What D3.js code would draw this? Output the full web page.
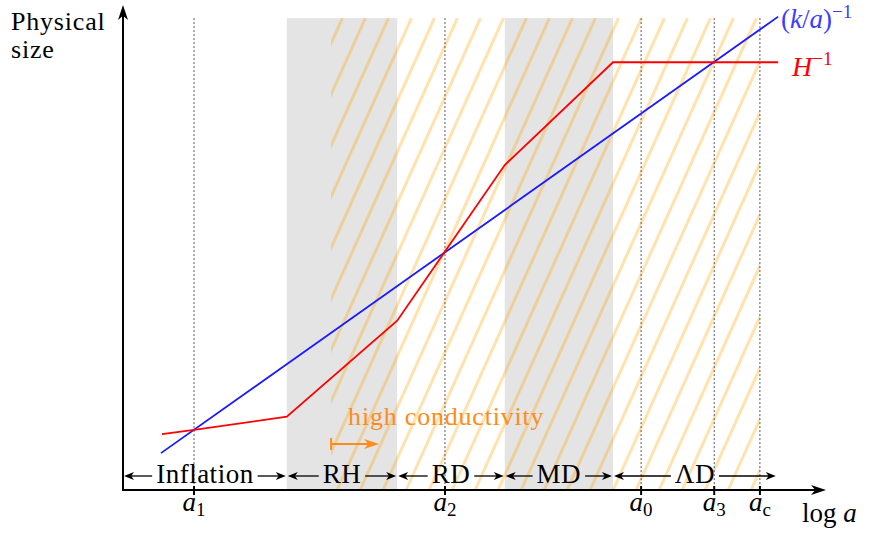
<!DOCTYPE html>
<html><head><meta charset="utf-8">
<script src="https://cdn.jsdelivr.net/npm/d3@7"></script>
<style>
body{margin:0;background:#fff}
text{font-family:"Liberation Serif","Times New Roman",serif;}
</style></head><body>
<svg id="chart" width="874" height="534"></svg>
<script>
// Cosmic eras along log a
const eraNames = ["Inflation", "RH", "RD", "MD", "\u039BD"];
const eraStart = [0, 23.3, 39.0, 54.3, 69.7];
const eraEnd   = [23.3, 39.0, 54.3, 69.7, 93.0];
const grayEras = ["RH", "MD"];
// Interval with high conductivity (hatched)
const hatchRange = [29.6, 90.6];
// Marked scale factors
const markerSubs = ["1", "2", "0", "3", "c"];
const markerLogA = [10.1, 45.8, 73.7, 84.1, 90.6];
// Comoving mode size (k/a)^-1
const modeLogA = [5.4, 93.2];
const modeSize = [7.6, 97.6];
// Hubble radius H^-1
const hubbleLogA = [5.55, 10.1, 23.3, 39.0, 54.3, 69.7, 93.2];
const hubbleSize = [11.5, 12.4, 15.1, 34.9, 67.0, 88.2, 88.2];
const plotTop = 97.3;

const svg = d3.select("#chart");
const x = d3.scaleLinear().domain([0, 100]).range([123, 826]);
const y = d3.scaleLinear().domain([0, 100]).range([490, 5]);

const ORANGE = "#ff8c1a";

// shaded eras
eraNames.forEach((n, i) => {
  if (!grayEras.includes(n)) return;
  svg.append("rect")
    .attr("x", x(eraStart[i])).attr("y", y(plotTop))
    .attr("width", x(eraEnd[i]) - x(eraStart[i]))
    .attr("height", y(0) - y(plotTop))
    .attr("fill", "#e4e4e4");
});

// hatching
const defs = svg.append("defs");
defs.append("clipPath").attr("id", "hclip").append("rect")
  .attr("x", x(hatchRange[0])).attr("y", y(plotTop))
  .attr("width", x(hatchRange[1]) - x(hatchRange[0]))
  .attr("height", y(0) - y(plotTop));
const hg = svg.append("g").attr("clip-path", "url(#hclip)");
const h = y(0) - y(plotTop), slant = 0.45 * h, step = 23;
for (let k = -12; k < 25; k++) {
  const x0 = x(hatchRange[0]) + k * step + 6;
  hg.append("line")
    .attr("x1", x0).attr("y1", y(0))
    .attr("x2", x0 + slant).attr("y2", y(plotTop))
    .attr("stroke", "#ffa500").attr("stroke-opacity", 0.32)
    .attr("stroke-width", 3);
}

// dotted guides
markerLogA.forEach(v => {
  svg.append("line")
    .attr("x1", x(v)).attr("x2", x(v))
    .attr("y1", y(plotTop)).attr("y2", y(0))
    .attr("stroke", "#555").attr("stroke-width", 1)
    .attr("stroke-dasharray", "2,2");
});

// curves
const line = d3.line().x(d => x(d[0])).y(d => y(d[1]));
svg.append("path").datum(modeLogA.map((v, i) => [v, modeSize[i]]))
  .attr("d", line).attr("fill", "none").attr("stroke", "#1a1aff").attr("stroke-width", 1.8);
svg.append("path").datum(hubbleLogA.map((v, i) => [v, hubbleSize[i]]))
  .attr("d", line).attr("fill", "none").attr("stroke", "#ff0000").attr("stroke-width", 1.8);

// arrowhead helper (stealth-like)
function head(g, tx, ty, dx, dy, len, hw, color) {
  const px = -dy, py = dx;
  const bx = tx - dx * len, by = ty - dy * len;
  const ix = tx - dx * len * 0.72, iy = ty - dy * len * 0.72;
  g.append("path")
    .attr("d", `M${tx},${ty}L${bx + px * hw},${by + py * hw}L${ix},${iy}L${bx - px * hw},${by - py * hw}Z`)
    .attr("fill", color);
}

// axes
const ax = svg.append("g");
ax.append("line").attr("x1", x(0)).attr("x2", x(100) - 6).attr("y1", y(0)).attr("y2", y(0))
  .attr("stroke", "#000").attr("stroke-width", 2);
ax.append("line").attr("x1", x(0)).attr("x2", x(0)).attr("y1", y(0) + 1).attr("y2", y(100) + 6)
  .attr("stroke", "#000").attr("stroke-width", 2);
head(ax, x(100), y(0), 1, 0, 15, 5, "#000");
head(ax, x(0), y(100), 0, -1, 15, 5, "#000");

// ticks and labels
markerLogA.forEach((v, i) => {
  svg.append("line").attr("x1", x(v)).attr("x2", x(v)).attr("y1", y(0) - 4).attr("y2", y(0) + 5)
    .attr("stroke", "#000").attr("stroke-width", 2);
  const t = svg.append("text").attr("x", x(v)).attr("y", 511)
    .attr("text-anchor", "middle").attr("font-size", 27);
  t.append("tspan").attr("font-style", "italic").text("a");
  t.append("tspan").attr("font-size", 19).attr("dy", 5).text(markerSubs[i]);
});

// axis titles
svg.append("text").attr("x", 11).attr("y", 30).attr("font-size", 26).attr("letter-spacing", 0.8).text("Physical");
svg.append("text").attr("x", 11).attr("y", 58).attr("font-size", 26).attr("letter-spacing", 0.8).text("size");
const lg = svg.append("text").attr("x", 802).attr("y", 522).attr("font-size", 27);
lg.append("tspan").text("log ");
lg.append("tspan").attr("font-style", "italic").text("a");

// curve labels
const kl = svg.append("text").attr("x", 781).attr("y", 28).attr("font-size", 27).attr("fill", "#3c3cff");
kl.append("tspan").text("(");
kl.append("tspan").attr("font-style", "italic").text("k");
kl.append("tspan").text("/");
kl.append("tspan").attr("font-style", "italic").text("a");
kl.append("tspan").text(")");
kl.append("tspan").attr("font-size", 19).attr("dy", -10).text("\u22121");
const hl = svg.append("text").attr("x", 792).attr("y", 76).attr("font-size", 28).attr("fill", "#ff0000");
hl.append("tspan").attr("font-style", "italic").text("H");
hl.append("tspan").attr("font-size", 19).attr("dy", -11).text("\u22121");

// era arrows
const eg = svg.append("g");
const eraY = 476;
eraNames.forEach((n, i) => {
  const x0 = x(eraStart[i]), x1 = x(eraEnd[i]), cx = (x0 + x1) / 2;
  const t = eg.append("text").attr("x", cx).attr("y", 483).attr("text-anchor", "middle")
    .attr("font-size", 27).attr("letter-spacing", 0.5).text(n);
  const w = t.node().getComputedTextLength();
  const l = cx - w / 2 - 4, r = cx + w / 2 + 4;
  eg.append("line").attr("x1", l).attr("x2", x0 + 6).attr("y1", eraY).attr("y2", eraY)
    .attr("stroke", "#000").attr("stroke-width", 1.3);
  eg.append("line").attr("x1", r).attr("x2", x1 - 6).attr("y1", eraY).attr("y2", eraY)
    .attr("stroke", "#000").attr("stroke-width", 1.3);
  head(eg, x0 + 1, eraY, -1, 0, 10, 4, "#000");
  head(eg, x1 - 1, eraY, 1, 0, 10, 4, "#000");
});

// high conductivity marker
const cg = svg.append("g");
const cx0 = x(hatchRange[0]), cy = 444;
cg.append("line").attr("x1", cx0).attr("x2", cx0).attr("y1", cy - 6).attr("y2", cy + 6)
  .attr("stroke", ORANGE).attr("stroke-width", 2);
cg.append("line").attr("x1", cx0).attr("x2", cx0 + 38).attr("y1", cy).attr("y2", cy)
  .attr("stroke", ORANGE).attr("stroke-width", 2);
head(cg, cx0 + 48, cy, 1, 0, 15, 5, ORANGE);
cg.append("text").attr("x", cx0 + 17).attr("y", 425).attr("font-size", 26)
  .attr("letter-spacing", 0.8).attr("fill", ORANGE).text("high conductivity");
</script>
</body></html>
